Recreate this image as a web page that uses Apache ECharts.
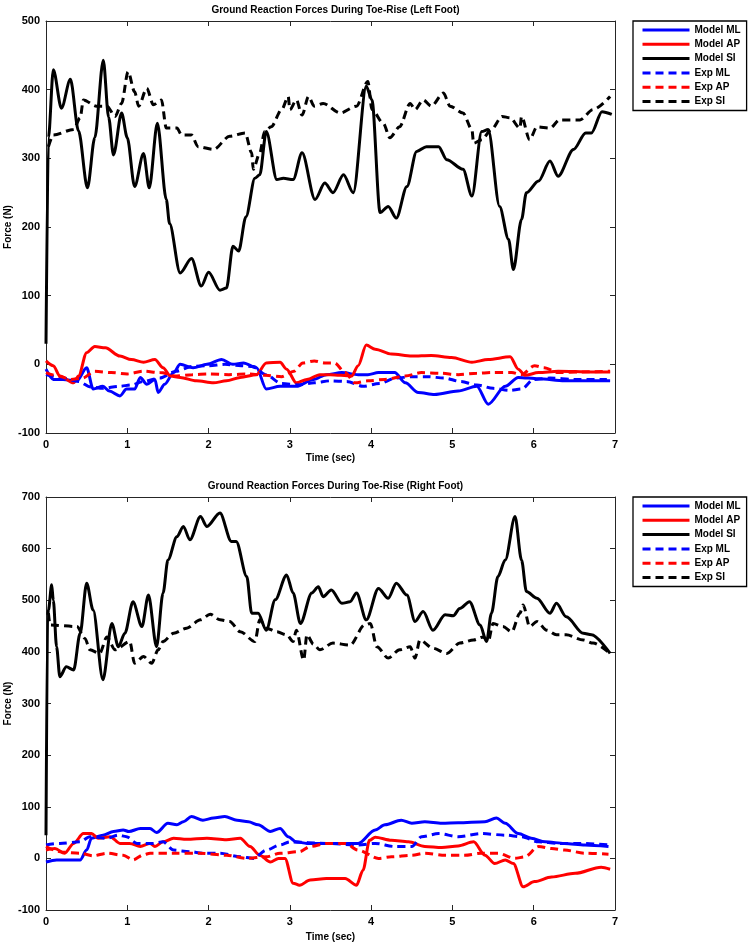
<!DOCTYPE html>
<html><head><meta charset="utf-8">
<script src="https://cdn.jsdelivr.net/npm/echarts@6/dist/echarts.min.js"></script>
<style>html,body{margin:0;padding:0;background:#fff}#c{width:750px;height:944px}</style>
</head><body><div id="c"></div>
<script>
// ---- Data: [time (sec), force (N)] ----
const seriesNames = ['Model ML','Model AP','Model SI','Exp ML','Exp AP','Exp SI'];
const titles = ['Ground Reaction Forces During Toe-Rise (Left Foot)','Ground Reaction Forces During Toe-Rise (Right Foot)'];
const xTicks = [0,1,2,3,4,5,6,7];
const leftYRange = [-100,500];
const rightYRange = [-100,700];

const leftModelML = [[0,-7],[0.09,-22],[0.21,-22],[0.38,-24],[0.5,-5],[0.58,-36],[0.7,-32],[0.78,-39],[0.91,-46],[0.99,-36],[1.09,-36],[1.16,-19],[1.24,-29],[1.34,-22],[1.38,-41],[1.46,-29],[1.57,-12],[1.65,0],[1.81,-5],[1.98,0],[2.16,7],[2.3,0],[2.43,2],[2.59,-5],[2.71,-36],[2.88,-32],[3.08,-32],[3.29,-22],[3.45,-15],[3.64,-12],[3.84,-15],[3.96,-15],[4.09,-12],[4.29,-12],[4.42,-27],[4.58,-41],[4.78,-44],[5.07,-39],[5.3,-32],[5.44,-58],[5.65,-32],[5.81,-19],[6.06,-21],[6.38,-24],[6.94,-24]];
const leftModelAP = [[0,5],[0.09,-2],[0.17,-17],[0.34,-27],[0.4,-17],[0.5,17],[0.6,26],[0.73,24],[0.91,12],[1.05,7],[1.2,3],[1.34,7],[1.44,-5],[1.53,-17],[1.65,-19],[1.85,-24],[2.06,-27],[2.22,-24],[2.39,-19],[2.59,-15],[2.71,2],[2.88,3],[2.96,-7],[3.08,-27],[3.21,-22],[3.37,-15],[3.5,-15],[3.76,-17],[3.84,-2],[3.94,28],[4.05,22],[4.25,15],[4.5,12],[4.74,13],[4.99,10],[5.24,3],[5.44,7],[5.71,11],[5.81,-7],[5.89,-16],[6.06,-12],[6.3,-10],[6.71,-11],[6.94,-11]];
const leftModelSI = [[0,30],[0.03,330],[0.09,429],[0.19,373],[0.3,415],[0.4,340],[0.51,257],[0.6,330],[0.705,443],[0.77,360],[0.83,305],[0.93,366],[1.0,330],[1.09,259],[1.2,307],[1.27,257],[1.37,351],[1.48,240],[1.52,205],[1.65,133],[1.79,154],[1.91,114],[2.0,134],[2.14,108],[2.22,111],[2.3,172],[2.37,165],[2.46,215],[2.57,271],[2.63,276],[2.71,339],[2.84,269],[2.92,271],[3.04,269],[3.15,308],[3.31,240],[3.43,264],[3.53,250],[3.66,276],[3.78,250],[3.94,405],[4.01,385],[4.11,221],[4.21,230],[4.31,213],[4.44,259],[4.56,310],[4.68,317],[4.83,317],[4.93,298],[5.13,284],[5.24,245],[5.36,339],[5.44,342],[5.58,230],[5.69,182],[5.75,138],[5.85,211],[5.91,250],[6.06,267],[6.2,296],[6.3,274],[6.49,313],[6.64,337],[6.71,337],[6.84,368],[6.96,364]];
const leftExpML = [[0,-15],[0.2,-20],[0.4,-25],[0.55,-33],[0.7,-35],[0.9,-32],[1.05,-30],[1.2,-25],[1.4,-20],[1.6,-10],[1.8,-3],[2.0,-2],[2.2,0],[2.4,-2],[2.55,-3],[2.7,-15],[2.9,-28],[3.1,-30],[3.3,-27],[3.5,-24],[3.7,-25],[3.9,-32],[4.1,-28],[4.3,-20],[4.5,-18],[4.7,-18],[4.9,-20],[5.1,-25],[5.3,-30],[5.5,-35],[5.7,-38],[5.85,-36],[6.0,-22],[6.2,-20],[6.5,-22],[6.9,-22]];
const leftExpAP = [[0,-12],[0.15,-17],[0.3,-22],[0.45,-20],[0.6,-10],[0.8,-12],[1.0,-14],[1.2,-10],[1.4,-12],[1.61,-17],[1.8,-15],[2.0,-14],[2.25,-15],[2.5,-14],[2.7,-16],[2.9,-18],[3.05,-10],[3.16,2],[3.3,5],[3.43,2],[3.55,2],[3.68,-12],[3.8,-27],[3.96,-24],[4.17,-22],[4.42,-17],[4.62,-12],[4.85,-13],[5.07,-15],[5.3,-13],[5.48,-12],[5.73,-12],[5.85,-15],[6.01,-2],[6.13,-5],[6.3,-12],[6.6,-11],[6.94,-10]];
const leftExpSI = [[0.03,317],[0.09,334],[0.34,342],[0.42,359],[0.46,385],[0.62,376],[0.75,376],[0.85,361],[0.93,380],[1.01,426],[1.09,397],[1.14,376],[1.24,402],[1.32,378],[1.42,385],[1.48,344],[1.61,344],[1.67,334],[1.79,334],[1.87,317],[2.06,313],[2.26,332],[2.45,337],[2.53,308],[2.55,284],[2.63,308],[2.69,339],[2.77,346],[2.9,371],[2.98,390],[3.0,371],[3.08,385],[3.15,363],[3.23,390],[3.3,376],[3.41,380],[3.62,366],[3.82,376],[3.96,412],[4.01,371],[4.15,351],[4.23,330],[4.35,346],[4.48,380],[4.54,371],[4.64,385],[4.74,376],[4.89,395],[4.97,376],[5.13,366],[5.24,342],[5.26,322],[5.36,327],[5.48,342],[5.61,361],[5.71,359],[5.83,344],[5.85,361],[5.95,327],[6.04,346],[6.2,344],[6.32,356],[6.57,356],[6.73,371],[6.94,390]];

const rightModelML = [[0,-7],[0.13,-3],[0.42,-3],[0.5,16],[0.56,39],[0.7,45],[0.83,52],[0.95,55],[1.02,52],[1.16,58],[1.28,58],[1.36,50],[1.5,68],[1.61,65],[1.69,71],[1.79,81],[1.93,74],[2.06,78],[2.2,81],[2.35,74],[2.49,71],[2.61,65],[2.76,52],[2.88,58],[2.98,42],[3.08,32],[3.21,29],[3.45,29],[3.84,29],[4.05,55],[4.17,65],[4.37,74],[4.5,68],[4.66,71],[4.87,68],[5.07,69],[5.4,71],[5.54,78],[5.65,68],[5.81,48],[5.97,39],[6.14,32],[6.38,29],[6.63,26],[6.92,23]];
const rightModelAP = [[0,16],[0.11,19],[0.23,10],[0.34,29],[0.46,48],[0.56,48],[0.64,39],[0.79,42],[0.91,29],[1.03,29],[1.16,23],[1.28,29],[1.34,23],[1.44,32],[1.57,39],[1.73,37],[1.98,39],[2.22,36],[2.39,39],[2.51,23],[2.63,6],[2.76,-7],[2.86,0],[2.94,0],[3.04,-48],[3.12,-52],[3.25,-42],[3.45,-39],[3.68,-39],[3.82,-52],[3.9,-23],[3.98,35],[4.05,41],[4.25,35],[4.46,32],[4.66,23],[4.87,21],[5.07,24],[5.26,32],[5.4,6],[5.52,-10],[5.65,-3],[5.75,-10],[5.87,-55],[6.01,-45],[6.22,-36],[6.51,-29],[6.83,-17],[6.94,-21]];
const rightModelSI = [[0,45],[0.02,470],[0.03,481],[0.07,530],[0.09,500],[0.13,410],[0.17,352],[0.25,371],[0.34,365],[0.42,436],[0.5,533],[0.58,481],[0.7,346],[0.81,455],[0.89,410],[0.97,436],[1.07,497],[1.18,449],[1.26,510],[1.36,410],[1.44,514],[1.5,578],[1.61,623],[1.69,643],[1.77,617],[1.9,662],[1.98,643],[2.14,669],[2.28,614],[2.34,614],[2.47,546],[2.53,475],[2.61,475],[2.71,442],[2.82,501],[2.96,549],[3.04,514],[3.13,455],[3.27,514],[3.35,526],[3.41,507],[3.51,520],[3.64,494],[3.74,497],[3.82,514],[3.94,462],[4.09,523],[4.21,504],[4.31,533],[4.44,510],[4.54,459],[4.64,478],[4.76,442],[4.91,472],[5.01,470],[5.09,484],[5.21,497],[5.34,452],[5.42,420],[5.48,475],[5.56,546],[5.65,578],[5.77,662],[5.85,578],[5.91,517],[6.04,504],[6.2,475],[6.28,494],[6.4,468],[6.61,436],[6.71,433],[6.94,397]];
const rightExpML = [[0,26],[0.17,29],[0.42,32],[0.54,42],[0.75,39],[0.89,45],[0.99,42],[1.12,29],[1.32,29],[1.44,32],[1.57,16],[1.77,13],[1.93,10],[2.14,10],[2.39,3],[2.55,0],[2.71,16],[2.88,26],[3.0,32],[3.45,29],[3.84,26],[4.05,29],[4.29,23],[4.5,23],[4.62,42],[4.83,48],[5.07,42],[5.36,48],[5.65,45],[5.85,42],[6.06,32],[6.3,29],[6.59,29],[6.92,26]];
const rightExpAP = [[0,23],[0.2,12],[0.42,10],[0.58,5],[0.75,10],[0.95,6],[1.07,-3],[1.2,7],[1.28,10],[1.57,10],[1.89,10],[2.22,6],[2.47,0],[2.71,3],[2.88,10],[3.12,13],[3.25,23],[3.45,29],[3.68,29],[3.84,16],[4.09,0],[4.25,3],[4.5,6],[4.66,10],[4.91,6],[5.15,6],[5.36,10],[5.56,10],[5.77,0],[5.89,3],[6.06,23],[6.22,19],[6.38,16],[6.63,10],[6.92,8]];
const rightExpSI = [[0.03,475],[0.05,452],[0.38,449],[0.48,426],[0.54,404],[0.66,397],[0.75,429],[0.85,404],[1.03,420],[1.09,378],[1.2,391],[1.3,378],[1.38,404],[1.44,420],[1.57,436],[1.73,446],[1.9,462],[2.02,473],[2.14,462],[2.26,459],[2.39,439],[2.57,420],[2.63,462],[2.71,446],[2.84,439],[2.96,433],[3.04,420],[3.08,442],[3.17,384],[3.21,433],[3.29,415],[3.37,404],[3.53,417],[3.74,413],[3.92,452],[3.99,455],[4.07,410],[4.21,388],[4.35,404],[4.48,410],[4.54,388],[4.6,423],[4.76,407],[4.93,397],[5.09,417],[5.26,423],[5.38,429],[5.44,420],[5.5,455],[5.62,449],[5.73,439],[5.83,475],[5.87,491],[5.95,449],[6.04,459],[6.16,442],[6.28,433],[6.4,433],[6.61,423],[6.73,417],[6.94,397]];

const panels = [
  [leftModelML, leftModelAP, leftModelSI, leftExpML, leftExpAP, leftExpSI],
  [rightModelML, rightModelAP, rightModelSI, rightExpML, rightExpAP, rightExpSI]
];
const yRanges = [leftYRange, rightYRange];

// ---- Styling ----
const colors = ['#0000ff','#ff0000','#000000','#0000ff','#ff0000','#000000'];
const FONT = '"Liberation Sans", Arial, sans-serif';
const AX = '#262626';
const grids = [
  {left:46, top:21, width:569, height:412, outerBoundsMode:'none', containLabel:false},
  {left:46, top:497, width:569, height:413, outerBoundsMode:'none', containLabel:false}
];
const nameGaps = [20, 22];
const titleTops = [0, 476];

const chart = echarts.init(document.getElementById('c'), null, {renderer:'canvas'});
const xAxis = [], yAxis = [], series = [], title = [], legend = [];
grids.forEach((g, gi) => {
  const axisLine = {show:true, onZero:false, lineStyle:{color:AX, width:1}};
  const tick = {show:true, inside:true, length:5, lineStyle:{color:AX}};
  const lbl = {show:true, color:'#000', fontFamily:FONT, fontWeight:'bold', fontSize:11, margin:6};
  xAxis.push({type:'value', gridIndex:gi, min:xTicks[0], max:xTicks[xTicks.length-1], interval:1, position:'bottom',
    name:'Time (sec)', nameLocation:'middle', nameGap:nameGaps[gi], nameMoveOverlap:false,
    nameTextStyle:{color:'#000', fontFamily:FONT, fontWeight:'bold', fontSize:10},
    axisLine, axisTick:tick, axisLabel:lbl, splitLine:{show:false}});
  xAxis.push({type:'value', gridIndex:gi, min:xTicks[0], max:xTicks[xTicks.length-1], interval:1, position:'top',
    axisLine, axisTick:tick, axisLabel:{show:false}, splitLine:{show:false}});
  yAxis.push({type:'value', gridIndex:gi, min:yRanges[gi][0], max:yRanges[gi][1], interval:100, position:'left',
    name:'Force (N)', nameLocation:'middle', nameGap:33, nameMoveOverlap:false,
    nameTextStyle:{color:'#000', fontFamily:FONT, fontWeight:'bold', fontSize:10},
    axisLine, axisTick:tick, axisLabel:lbl, splitLine:{show:false}});
  yAxis.push({type:'value', gridIndex:gi, min:yRanges[gi][0], max:yRanges[gi][1], interval:100, position:'right',
    axisLine, axisTick:tick, axisLabel:{show:false}, splitLine:{show:false}});
  title.push({text:titles[gi], left:g.left + g.width/2, textAlign:'center', top: titleTops[gi],
    textStyle:{color:'#000', fontFamily:FONT, fontWeight:'bold', fontSize:10}});
  legend.push({data:seriesNames, orient:'vertical', left:633, top: gi===0 ? 21 : 497,
    itemWidth:47, itemHeight:10, itemGap:4.3, padding:[4,6,4,8],
    borderColor:'#000', borderWidth:1.3, backgroundColor:'#fff', borderRadius:0,
    selectedMode:false,
    itemStyle:{opacity:0, borderWidth:0},
    lineStyle:{width:3},
    textStyle:{color:'#000', fontFamily:FONT, fontWeight:'bold', fontSize:10}});
  panels[gi].forEach((d, si) => {
    series.push({type:'line', name:seriesNames[si], xAxisIndex:gi*2, yAxisIndex:gi*2, data:d,
      showSymbol:false, symbol:'none', smooth:0.3, smoothMonotone:'x', animation:false,
      color:colors[si],
      lineStyle:{color:colors[si], width:3, type: si>=3 ? [8,5] : 'solid'}});
  });
});

chart.setOption({animation:false, backgroundColor:'#fff', title, legend, grid:grids, xAxis, yAxis, series});
</script></body></html>
